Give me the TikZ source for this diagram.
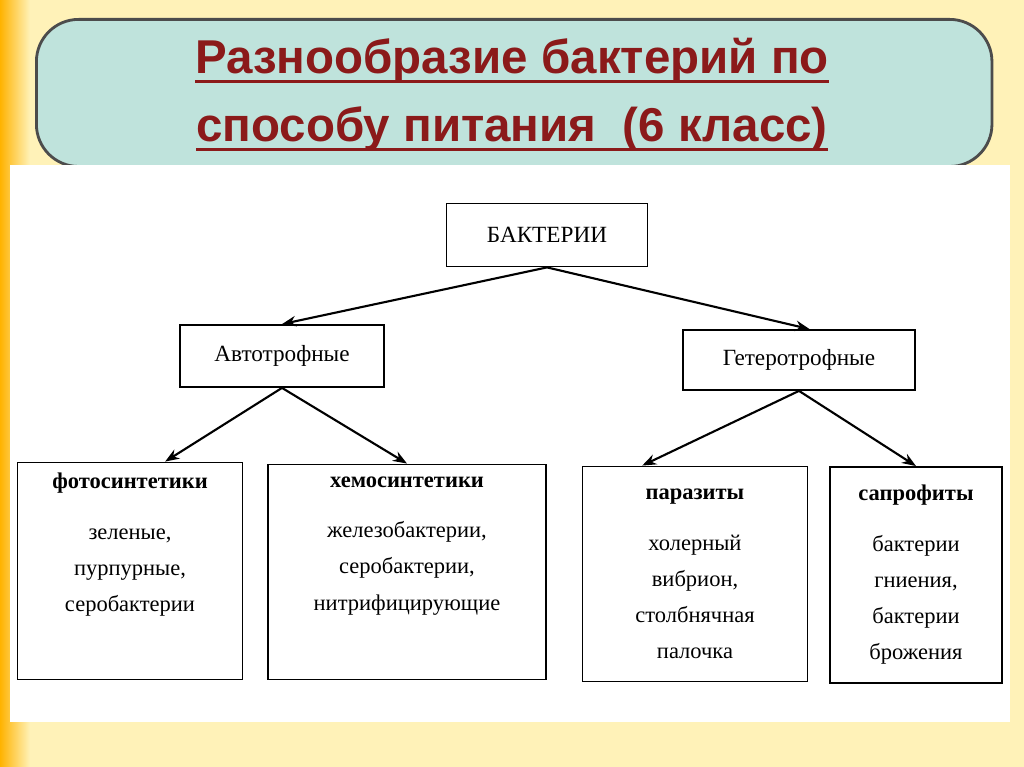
\documentclass[tikz,border=0pt]{standalone}
\usepackage{fontspec}
\setmainfont{Liberation Serif}
\newfontfamily\titlefont{Liberation Sans}
\usetikzlibrary{positioning,arrows.meta,shadings}
\definecolor{titlered}{HTML}{8B1A1A}
\definecolor{titlebg}{HTML}{BFE3DC}
\definecolor{slidebg}{HTML}{FFF2B8}
\newcommand\uln[1]{\setbox0\hbox{#1}\rlap{\rule[-2.6pt]{\wd0}{0.8pt}}\box0}
\tikzset{
  box/.style={draw=black,line width=0.5pt,fill=white,align=center,inner sep=2pt},
  leaf/.style={box,font=\fontsize{6.4}{10.3}\selectfont},
  link/.style={-{Stealth[length=4pt,width=3pt]},line width=0.6pt}
}
\begin{document}
\begin{tikzpicture}[x=0.01cm,y=-0.01cm]
  \useasboundingbox (0,0) rectangle (1024,767);
  % slide background
  \shade[left color=orange!60!yellow,right color=slidebg,middle color=slidebg] (0,0) rectangle (60,767);
  \fill[slidebg] (60,0) rectangle (1024,767);
  \node (title) [draw=black!70,line width=0.8pt,fill=titlebg,rounded corners=12pt,
    minimum width=9.55cm,minimum height=1.47cm,anchor=north west] at (35,18) {};
  \node [font=\titlefont\bfseries\fontsize{13.5}{19.3}\selectfont,text=titlered,align=center]
    at (512,95) {\uln{Разнообразие бактерий по}\\\uln{способу питания\ \ (6 класс)}};
  % white panel
  \fill[white] (10,165) rectangle (1010,722);

  \node (bact) [box,minimum width=2.01cm,minimum height=0.63cm,font=\fontsize{6.6}{8}\selectfont] at (547,235) {БАКТЕРИИ};
  \node (auto) [box,minimum width=2.04cm,minimum height=0.62cm,font=\fontsize{6.6}{8}\selectfont] at (282,356) {Автотрофные};
  \node (hetero) [box,minimum width=2.32cm,minimum height=0.60cm,font=\fontsize{6.6}{8}\selectfont] at (799,360) {Гетеротрофные};

  \node (photo) [leaf,minimum width=2.25cm,minimum height=2.17cm] at (130,571)
    {\textbf{фотосинтетики}\\[4pt]зеленые,\\пурпурные,\\серобактерии\\[6pt]};
  \node (chemo) [leaf,minimum width=2.78cm,minimum height=2.15cm] at (407,572)
    {\textbf{хемосинтетики}\\[4pt]железобактерии,\\серобактерии,\\нитрифицирующие\\[6pt]};
  \node (paras) [leaf,minimum width=2.25cm,minimum height=2.15cm] at (695,574)
    {\textbf{паразиты}\\[4pt]холерный\\вибрион,\\столбнячная\\палочка};
  \node (sapro) [leaf,minimum width=1.72cm,minimum height=2.16cm] at (916,575)
    {\textbf{сапрофиты}\\[4pt]бактерии\\гниения,\\бактерии\\брожения};

  \draw [link] (bact.south) -- (auto.north);
  \draw [link] (bact.south) -- ([xshift=3pt]hetero.north);
  \draw [link] (auto.south) -- ([xshift=10pt]photo.north);
  \draw [link] (auto.south) -- (chemo.north);
  \draw [link] (hetero.south) -- ([xshift=-15pt]paras.north);
  \draw [link] (hetero.south) -- (sapro.north);
\end{tikzpicture}
\end{document}
